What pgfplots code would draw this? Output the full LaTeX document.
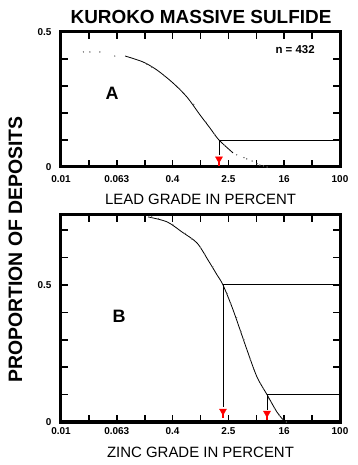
\documentclass[border=0pt]{standalone}
\usepackage{pgfplots}
\pgfplotsset{compat=1.18}
\usepackage{fontspec}
\setmainfont{Liberation Sans}

\begin{document}
\begin{tikzpicture}
\path (0,0) rectangle (358bp,465bp);

\node[font=\fontsize{19}{19}\selectfont\bfseries] at (201bp,448.5bp) {KUROKO MASSIVE SULFIDE};
\node[rotate=90, font=\fontsize{19.5}{19.5}\selectfont\bfseries] at (15.5bp,215.5bp) {PROPORTION OF DEPOSITS};

% ---------- Panel A: lead ----------
\begin{axis}[xmode=log, at={(61bp,298bp)}, anchor=south west,
  scale only axis, width=279bp, height=135bp,
  xmin=0.01, xmax=100, ymin=0, ymax=0.5,
  axis line style={black, line width=3bp},
  tick style={black, line width=1.6bp},
  major tick length=7bp,
  xtick={0.01,0.02512,0.0631,0.1585,0.3981,1,2.512,6.310,15.85,39.81,100},
  xticklabels={0.01,,0.063,,0.4,,2.5,,16,,100},
  ytick={0,0.1,0.2,0.3,0.4,0.5}, yticklabels={0,,,,,0.5},
  tick label style={font=\fontsize{10}{10}\selectfont\bfseries},
  yticklabel style={xshift=-6bp},
  xticklabel style={yshift=-5bp},
  xlabel={LEAD GRADE IN PERCENT},
  xlabel style={font=\fontsize{15}{15}\selectfont, anchor=center, at={(axis description cs:0.5,-0.237)}}]
\addplot[only marks, mark=*, mark size=0.45bp, gray!80!black] coordinates {
 (0.021,0.426) (0.026,0.426) (0.036,0.426) (0.059,0.411)
 (0.17,0.381) (0.20,0.37) (0.30,0.338) (0.5,0.29) (0.8,0.232)
 (1.2,0.165) (1.6,0.12) (2.2,0.08) (3.3,0.045) (4.2,0.035)
 (4.6,0.030) (5.5,0.022) (6.5,0.012) (7.1,0.007) (8.0,0.004) (9.0,0.0)};
\addplot[black, line width=0.8bp, smooth, no marks] coordinates {
 (0.083,0.411) (0.150,0.389) (0.238,0.359) (0.404,0.311) (0.640,0.259)
 (0.984,0.193) (1.37,0.144) (1.84,0.100) (2.93,0.052)};
\addplot[black, line width=0.9bp, no marks] coordinates {(100,0.1) (1.84,0.1) (1.84,0.045)};
\addplot[red, line width=1.4bp, mark=triangle*, mark size=4bp, mark indices={1},
  mark options={rotate=180, fill=red, draw=red, line width=0.5bp}] coordinates {(1.84,0.030) (1.84,0.004)};
\node[font=\fontsize{18}{18}\selectfont\bfseries] at (axis description cs:0.183,0.548) {A};
\node[font=\fontsize{11.5}{11.5}\selectfont\bfseries] at (axis description cs:0.839,0.867) {n = 432};
\end{axis}

% ---------- Panel B: zinc ----------
\begin{axis}[xmode=log, at={(61bp,43bp)}, anchor=south west,
  scale only axis, width=279bp, height=207bp,
  xmin=0.01, xmax=100, ymin=0, ymax=0.755,
  axis line style={black, line width=3bp},
  tick style={black, line width=1.6bp},
  major tick length=7bp,
  xtick={0.01,0.02512,0.0631,0.1585,0.3981,1,2.512,6.310,15.85,39.81,100},
  xticklabels={0.01,,0.063,,0.4,,2.5,,16,,100},
  ytick={0,0.1,0.2,0.3,0.4,0.5,0.6,0.7}, yticklabels={0,,,,,0.5,,},
  tick label style={font=\fontsize{10}{10}\selectfont\bfseries},
  yticklabel style={xshift=-6bp},
  xticklabel style={yshift=-2bp},
  xlabel={ZINC GRADE IN PERCENT},
  xlabel style={font=\fontsize{15}{15}\selectfont, anchor=center, at={(axis description cs:0.5,-0.145)}}]
\addplot[only marks, mark=*, mark size=0.45bp, gray!80!black] coordinates {
 (0.2,0.748) (0.25,0.742) (0.4,0.72) (0.6,0.688) (0.75,0.668) (1.0,0.637)
 (1.15,0.612) (1.5,0.566) (1.9,0.52) (2.4,0.468) (2.7,0.432) (3.3,0.38)
 (3.8,0.33) (4.2,0.30) (5.2,0.228) (5.8,0.192) (7.3,0.138) (8.0,0.12)
 (9.5,0.085) (10.5,0.068) (11.5,0.05) (13.5,0.025) (15,0.01) (17,0.0)};
\addplot[black, line width=0.8bp, smooth, no marks] coordinates {
 (0.177,0.748) (0.331,0.730) (0.543,0.693) (0.891,0.653) (1.28,0.591)
 (1.73,0.536) (2.10,0.500) (2.93,0.409) (4.64,0.263) (6.46,0.164)
 (8.98,0.100) (12.5,0.036) (16.3,0.0)};
\addplot[black, line width=0.9bp, no marks] coordinates {(100,0.5) (2.10,0.5) (2.10,0.055)};
\addplot[red, line width=1.4bp, mark=triangle*, mark size=4bp, mark indices={1},
  mark options={rotate=180, fill=red, draw=red, line width=0.5bp}] coordinates {(2.10,0.040) (2.10,0.014)};
\addplot[black, line width=0.9bp, no marks] coordinates {(100,0.1) (8.98,0.1) (8.98,0.045)};
\addplot[red, line width=1.4bp, mark=triangle*, mark size=4bp, mark indices={1},
  mark options={rotate=180, fill=red, draw=red, line width=0.5bp}] coordinates {(8.98,0.032) (8.98,0.006)};
\node[font=\fontsize{18}{18}\selectfont\bfseries] at (axis description cs:0.208,0.51) {B};
\end{axis}
\end{tikzpicture}
\end{document}
